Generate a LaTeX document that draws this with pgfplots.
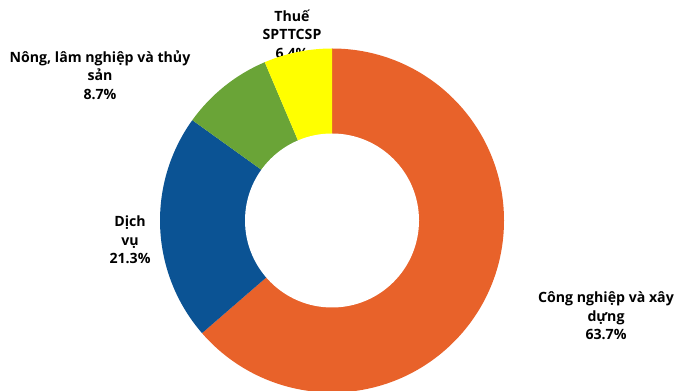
\documentclass[border=0pt]{standalone}
\usepackage{pgfplots}
\usepackage{pgfplotstable}
\pgfplotsset{compat=1.18}
\usepackage{fontspec}
\setmainfont{Open Sans}
\definecolor{cOrange}{RGB}{232,98,42}
\definecolor{cBlue}{RGB}{11,83,148}
\definecolor{cGreen}{RGB}{106,164,55}
\definecolor{cYellow}{RGB}{255,255,0}
\pgfplotstableread{
name val
CN 63.7
DV 21.3
NL 8.7
TH 6.4
}\data
\begin{document}
\begin{tikzpicture}
\pgfplotstablegetelem{0}{val}\of\data \let\vA\pgfplotsretval
\pgfplotstablegetelem{1}{val}\of\data \let\vB\pgfplotsretval
\pgfplotstablegetelem{2}{val}\of\data \let\vC\pgfplotsretval
\pgfplotstablegetelem{3}{val}\of\data \let\vD\pgfplotsretval
\pgfmathsetmacro\tot{\vA+\vB+\vC+\vD}
\pgfmathsetmacro\aA{90}
\pgfmathsetmacro\aB{\aA-\vA/\tot*360}
\pgfmathsetmacro\aC{\aB-\vB/\tot*360}
\pgfmathsetmacro\aD{\aC-\vC/\tot*360}
\pgfmathsetmacro\aE{\aD-\vD/\tot*360}
\begin{axis}[
  scale only axis, width=677bp, height=391bp,
  xmin=0, xmax=677, ymin=0, ymax=391,
  hide axis, clip=true,
]
\tikzset{lab/.style={font=\fontsize{14.2}{18.6}\selectfont\bfseries, align=center, text=black}}
\node[lab] at (axis cs:292,357) {Thuế\\SPTTCSP\\6.4\%};
\node[lab] at (axis cs:100,316) {Nông, lâm nghiệp và thủy\\sản\\8.7\%};
\node[lab] at (axis cs:130,151) {Dịch\\vụ\\21.3\%};
\node[lab] at (axis cs:606,75) {Công nghiệp và xây\\dựng\\63.7\%};
\fill[cOrange] (axis cs:332,170.5) -- ++(\aA:172bp) arc[start angle=\aA, end angle=\aB, radius=172bp] -- cycle;
\fill[cBlue] (axis cs:332,170.5) -- ++(\aB:172bp) arc[start angle=\aB, end angle=\aC, radius=172bp] -- cycle;
\fill[cGreen] (axis cs:332,170.5) -- ++(\aC:172bp) arc[start angle=\aC, end angle=\aD, radius=172bp] -- cycle;
\fill[cYellow] (axis cs:332,170.5) -- ++(\aD:172bp) arc[start angle=\aD, end angle=\aE, radius=172bp] -- cycle;
\fill[white] (axis cs:332,170.5) circle[radius=87bp];
\end{axis}
\pgfresetboundingbox
\useasboundingbox (0,0) rectangle (677bp,391bp);
\end{tikzpicture}
\end{document}
